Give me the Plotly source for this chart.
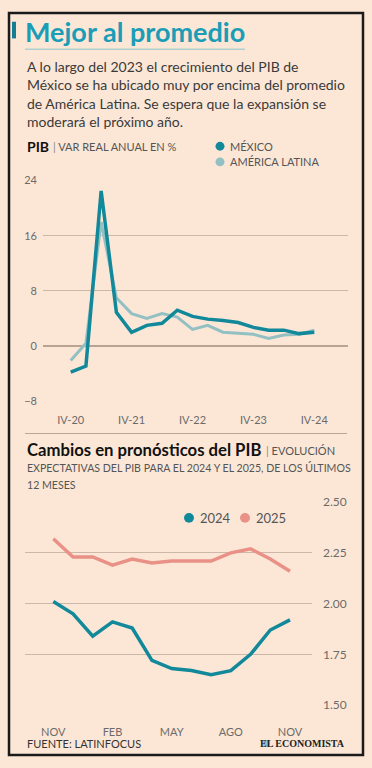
import plotly.graph_objects as go

W, H = 372, 768
BG = "#fce7d6"
TEAL = "#12889b"
LIGHT = "#93c0c3"
SALMON = "#ea9187"
GRID = "#cdb7a6"
TXT = "#3b3b3b"
TICK = "#6b6b6b"

# ---- data: PIB, var real anual %
quarters = ["IV-20", "I-21", "II-21", "III-21", "IV-21", "I-22", "II-22", "III-22",
            "IV-22", "I-23", "II-23", "III-23", "IV-23", "I-24", "II-24", "III-24", "IV-24"]
mexico = [-3.8, -2.9, 22.5, 4.9, 2.0, 3.0, 3.3, 5.2, 4.3, 3.9, 3.7, 3.4, 2.7, 2.3, 2.3, 1.8, 2.0]
america_latina = [-2.1, 0.4, 18.0, 7.0, 4.7, 4.0, 4.7, 4.2, 2.4, 3.0, 2.0, 1.8, 1.7, 1.1, 1.6, 1.7, 2.3]
top_ticks = ["IV-20", "IV-21", "IV-22", "IV-23", "IV-24"]
top_yticks = [-8, 0, 8, 16, 24]

# ---- data: pronosticos
months = ["NOV-23", "DIC-23", "ENE-24", "FEB-24", "MAR-24", "ABR-24", "MAY-24",
          "JUN-24", "JUL-24", "AGO-24", "SEP-24", "OCT-24", "NOV-24"]
pron_2024 = [2.01, 1.95, 1.84, 1.91, 1.88, 1.72, 1.68, 1.67, 1.65, 1.67, 1.75, 1.87, 1.92]
pron_2025 = [2.32, 2.23, 2.23, 2.19, 2.22, 2.20, 2.21, 2.21, 2.21, 2.25, 2.27, 2.22, 2.16]
bot_ticks = ["NOV-23", "FEB-24", "MAY-24", "AGO-24", "NOV-24"]
bot_ticktext = ["NOV", "FEB", "MAY", "AGO", "NOV"]
bot_yticks = [1.50, 1.75, 2.00, 2.25, 2.50]


def px(x):
    return x / W


def py(y):
    return 1 - y / H


fig = go.Figure()
fig.add_trace(go.Scatter(x=quarters, y=america_latina, mode="lines", name="AMÉRICA LATINA",
                         line=dict(color=LIGHT, width=3), xaxis="x", yaxis="y", showlegend=False))
fig.add_trace(go.Scatter(x=quarters, y=mexico, mode="lines", name="MÉXICO",
                         line=dict(color=TEAL, width=3.5), xaxis="x", yaxis="y", showlegend=False))
fig.add_trace(go.Scatter(x=months, y=pron_2025, mode="lines", name="2025",
                         line=dict(color=SALMON, width=3.5), xaxis="x2", yaxis="y2", showlegend=False))
fig.add_trace(go.Scatter(x=months, y=pron_2024, mode="lines", name="2024",
                         line=dict(color=TEAL, width=3.5), xaxis="x2", yaxis="y2", showlegend=False))

# top chart geometry (pixels)
T_L, T_R, T_T, T_B = 43, 348, 176, 401
t_first, t_last = 70.7, 314.3
t_step = (t_last - t_first) / (len(quarters) - 1)
B_L, B_R, B_T, B_B = 25, 312, 504, 711
b_first, b_last = 53.3, 290.0
b_step = (b_last - b_first) / (len(months) - 1)

fig.update_layout(
    width=W, height=H, autosize=False,
    margin=dict(l=0, r=0, t=0, b=0),
    paper_bgcolor=BG, plot_bgcolor=BG,
    font=dict(family="Lato, sans-serif", color=TXT),
    xaxis=dict(domain=[px(T_L), px(T_R)], anchor="y", type="category",
               range=[(T_L - t_first) / t_step, len(quarters) - 1 + (T_R - t_last) / t_step],
               tickvals=top_ticks, ticktext=top_ticks, showgrid=False, zeroline=False,
               showline=False, ticks="", tickfont=dict(size=11, color=TICK),
               ticklabelstandoff=11),
    yaxis=dict(domain=[py(T_B), py(T_T)], anchor="x", range=[-8, 24],
               tickvals=top_yticks, showgrid=True, gridcolor=GRID, gridwidth=1,
               zeroline=True, zerolinecolor="#b9a392", zerolinewidth=1.5,
               showline=False, ticks="", tickfont=dict(size=11, color=TICK),
               ticklabelstandoff=5),
    xaxis2=dict(domain=[px(B_L), px(B_R)], anchor="y2", type="category",
                range=[(B_L - b_first) / b_step, len(months) - 1 + (B_R - b_last) / b_step],
                tickvals=bot_ticks, ticktext=bot_ticktext, showgrid=False, zeroline=False,
                showline=False, ticks="", tickfont=dict(size=11, color=TICK),
                ticklabelstandoff=19),
    yaxis2=dict(domain=[py(B_B), py(B_T)], anchor="x2", range=[1.5, 2.5], side="right",
                tickvals=bot_yticks, tickformat=".2f", showgrid=True, gridcolor=GRID,
                gridwidth=1, zeroline=False, showline=False, ticks="",
                tickfont=dict(size=12, color=TICK), ticklabelstandoff=10),
)

shapes = []
ann = []


def text(x, y, s, size, color=TXT, family="Lato, sans-serif", anchor="left", bold=False):
    if bold:
        s = "<b>" + s + "</b>"
    ann.append(dict(x=px(x), y=py(y), xref="paper", yref="paper", text=s, showarrow=False,
                    xanchor=anchor, yanchor="middle",
                    font=dict(size=size, color=color, family=family)))


def dot(cx, cy, r, color):
    shapes.append(dict(type="circle", xref="paper", yref="paper",
                       x0=px(cx - r), x1=px(cx + r), y0=py(cy + r), y1=py(cy - r),
                       fillcolor=color, line=dict(width=0)))


# frame
shapes.append(dict(type="rect", xref="paper", yref="paper", x0=px(9), x1=px(363),
                   y0=py(762), y1=py(5), line=dict(color="#1a1a1a", width=2.5),
                   fillcolor="rgba(0,0,0,0)"))
# title bar + underline
shapes.append(dict(type="rect", xref="paper", yref="paper", x0=px(12), x1=px(16),
                   y0=py(31), y1=py(14), fillcolor="#167e92", line=dict(width=0)))
shapes.append(dict(type="line", xref="paper", yref="paper", x0=px(25), x1=px(245),
                   y0=py(42), y1=py(42), line=dict(color="#8cc6cc", width=1)))
# separator
shapes.append(dict(type="line", xref="paper", yref="paper", x0=px(25), x1=px(347),
                   y0=py(434), y1=py(434), line=dict(color="#bba594", width=1)))

text(23, 24, "Mejor al promedio", 27, color="#1a9db7", bold=True)
body = ["A lo largo del 2023 el crecimiento del PIB de",
        "México se ha ubicado muy por encima del promedio",
        "de América Latina. Se espera que la expansión se",
        "moderará el próximo año."]
for i, line in enumerate(body):
    text(25, 60 + i * 18.5, line, 14, color="#3a3a3a")

text(25, 141, "PIB", 14, color="#111", bold=True)
text(51, 141, "<span style='color:#888'>|</span> VAR REAL ANUAL EN %", 11, color="#555")
dot(220, 141, 4.5, TEAL)
text(228, 141, "MÉXICO", 11, color="#555")
dot(220, 157, 4.5, LIGHT)
text(228, 157, "AMÉRICA LATINA", 11, color="#555")

text(25, 451, "Cambios en pronósticos del PIB", 16.7, color="#111", bold=True)
text(264, 451, "<span style='color:#888'>|</span> EVOLUCIÓN", 11, color="#555")
text(25, 469, "EXPECTATIVAS DEL PIB PARA EL 2024 Y EL 2025, DE LOS ÚLTIMOS", 10.6, color="#555")
text(25, 487, "12 MESES", 10.6, color="#555")

dot(189, 520, 5, TEAL)
text(198, 520, "2024", 13, color="#555")
dot(245, 520, 5, SALMON)
text(254, 520, "2025", 13, color="#555")

text(25, 750, "FUENTE: LATINFOCUS", 11, color="#333")
dot(266, 750, 3.5, "#8fc3d6")
text(347, 750, "EL ECONOMISTA", 10, color="#222", family="Liberation Serif, serif",
     anchor="right", bold=True)

fig.update_layout(shapes=shapes, annotations=ann)
fig.write_html("out.html", config={"displayModeBar": False},
               post_script="document.body.style.margin='0';document.body.style.overflow='hidden';")
